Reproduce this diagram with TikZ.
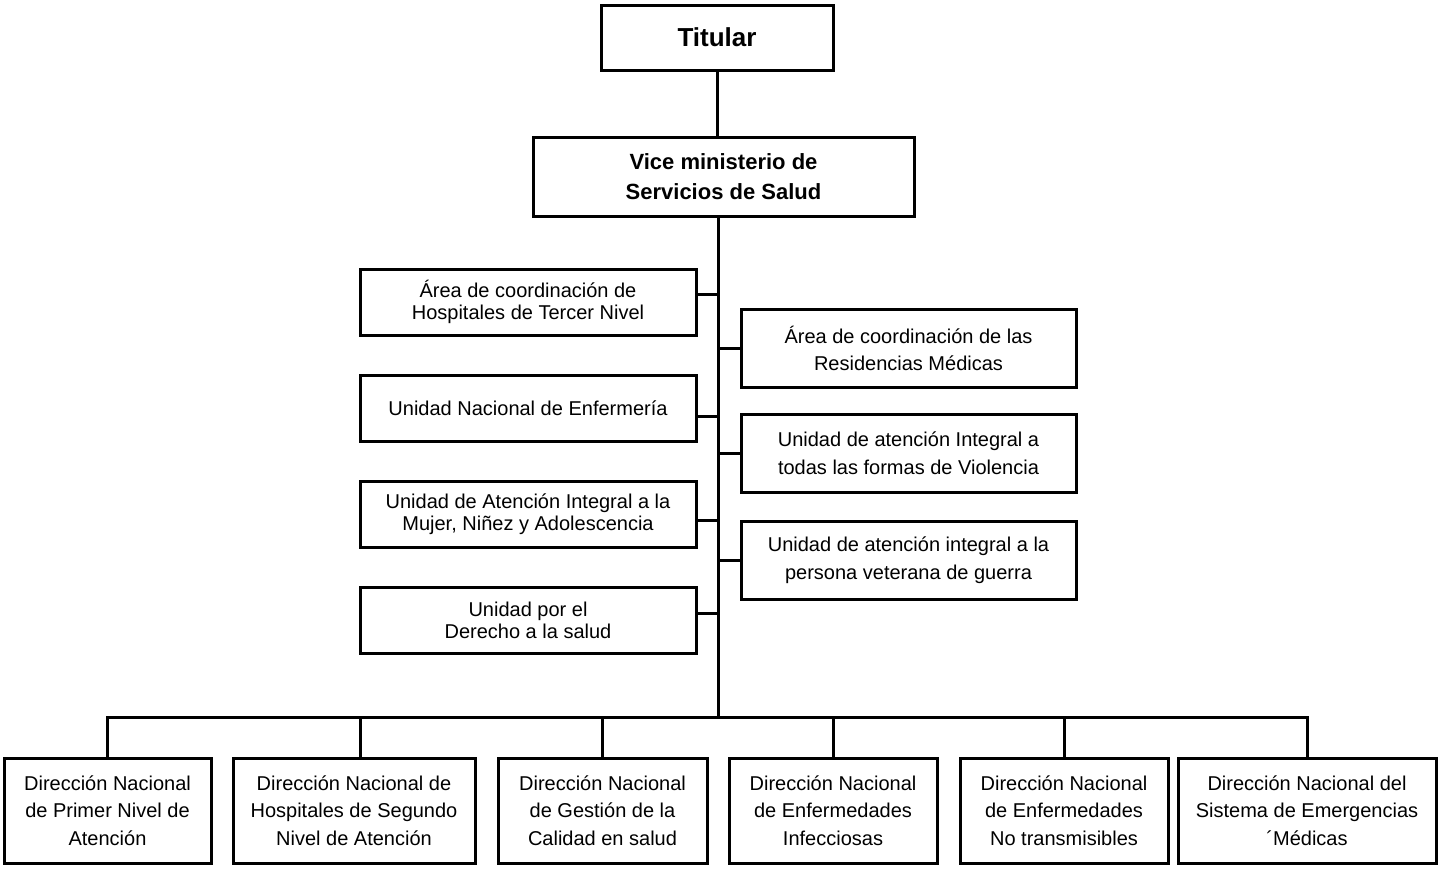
\documentclass[tikz,border=0pt]{standalone}
\usepackage{fontspec}
\setmainfont{Liberation Sans}

\begin{document}
\begin{tikzpicture}[x=0.5pt,y=-0.5pt,line width=1.5pt,
  caja/.style={draw,rectangle,inner sep=0pt,align=center,font=\fontsize{10}{11}\selectfont},
  izq/.style={caja,minimum width=168pt,minimum height=33pt},
  der/.style={caja,minimum width=167.5pt,minimum height=39pt,font=\fontsize{10}{13.8}\selectfont},
  abajo/.style={caja,minimum height=52.5pt,font=\fontsize{10}{13.8}\selectfont}]
\useasboundingbox (0,0) rectangle (1438,869);
\node[caja,minimum width=116pt,minimum height=32.5pt,font=\fontsize{13}{15}\bfseries] (tit) at (717,37.5) {Titular};
\node[caja,minimum width=190.5pt,minimum height=39.5pt,font=\fontsize{11}{15}\bfseries] (vice) at (723.5,176.5) {Vice ministerio de\\Servicios de Salud};
\node[izq] (L1) at (528,302) {Área de coordinación de\\Hospitales de Tercer Nivel};
\node[izq] (L2) at (528,408.5) {Unidad Nacional de Enfermería};
\node[izq] (L3) at (528,514) {Unidad de Atención Integral a la\\Mujer, Niñez y Adolescencia};
\node[izq] (L4) at (528,620) {Unidad por el\\Derecho a la salud};
\node[der] (R1) at (908.5,348.5) {Área de coordinación de las\\Residencias Médicas};
\node[der] (R2) at (908.5,453.5) {Unidad de atención Integral a\\todas las formas de Violencia};
\node[der] (R3) at (908.5,560) {Unidad de atención integral a la\\persona veterana de guerra};
\node[abajo,minimum width=103.5pt] (B1) at (107.5,810.5) {Dirección Nacional\\de Primer Nivel de\\Atención};
\node[abajo,minimum width=121pt] (B2) at (354,810.5) {Dirección Nacional de\\Hospitales de Segundo\\Nivel de Atención};
\node[abajo,minimum width=104.5pt] (B3) at (602.5,810.5) {Dirección Nacional\\de Gestión de la\\Calidad en salud};
\node[abajo,minimum width=104pt] (B4) at (833,810.5) {Dirección Nacional\\de Enfermedades\\Infecciosas};
\node[abajo,minimum width=104pt] (B5) at (1064,810.5) {Dirección Nacional\\de Enfermedades\\No transmisibles};
\node[abajo,minimum width=129pt] (B6) at (1307,810.5) {Dirección Nacional del\\Sistema de Emergencias\\´Médicas};
\coordinate (bus) at (718,717);
\draw (tit) -- (tit.south |- vice.north);
\draw (bus |- vice.south) -- (bus);
\foreach \n/\dy in {L1/4pt,L2/-3.75pt,L3/-3pt,L4/3.5pt} {
  \coordinate (\n c) at ([yshift=\dy]\n.east);
  \draw (\n c) -- (\n c -| bus);
}
\foreach \n in {R1,R2,R3} \draw (\n.west) -- (\n.west -| bus);
\draw (B1.north) |- (bus) -| (B6.north);
\foreach \n/\dx in {B2/3pt,B3/0pt,B4/0pt,B5/0pt} {
  \coordinate (\n c) at ([xshift=\dx]\n.north);
  \draw (\n c) -- (\n c |- bus);
}
\end{tikzpicture}
\end{document}
